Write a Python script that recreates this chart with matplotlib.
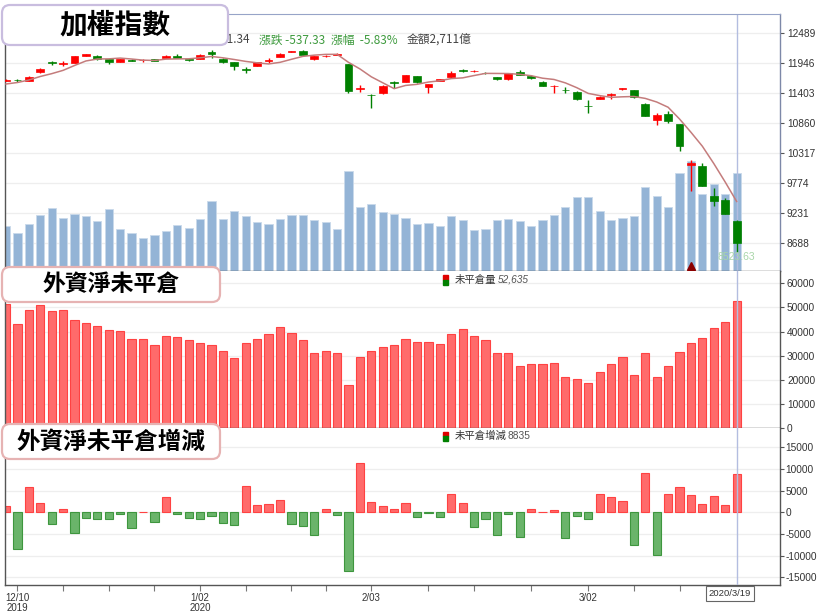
import numpy as np
import matplotlib
matplotlib.use('Agg')
import matplotlib.pyplot as plt
from matplotlib.patches import FancyBboxPatch

plt.rcParams['font.family'] = ['Noto Sans CJK TC', 'DejaVu Sans']

# ---------------- data ----------------
dates = ['12/09', '12/10', '12/11', '12/12', '12/13', '12/16', '12/17', '12/18', '12/19', '12/20',
         '12/23', '12/24', '12/25', '12/26', '12/27', '12/30', '12/31',
         '1/02', '1/03', '1/06', '1/07', '1/08', '1/09', '1/10', '1/13', '1/14', '1/15',
         '1/16', '1/17', '1/20', '1/30', '1/31',
         '2/03', '2/04', '2/05', '2/06', '2/07', '2/10', '2/11', '2/12', '2/13', '2/14',
         '2/17', '2/18', '2/19', '2/20', '2/21', '2/24', '2/25', '2/26', '2/27',
         '3/02', '3/03', '3/04', '3/05', '3/06', '3/09', '3/10', '3/11', '3/12', '3/13',
         '3/16', '3/17', '3/18', '3/19']

opens = [11629, 11644, 11626, 11778, 11955, 11933, 11941, 12073, 12073, 12013,
         11970, 12009, 11995, 12013, 12037, 12078, 12018, 12024, 12151, 12024,
         11959, 11837, 11892, 11991, 12060, 12151, 12169, 12013, 12067, 12096,
         11928, 11481, 11367, 11398, 11597, 11608, 11705, 11506, 11626, 11687,
         11819, 11796, 11770, 11693, 11662, 11789, 11705, 11608, 11524, 11463,
         11427, 11173, 11294, 11367, 11470, 11457, 11209, 10920, 11017, 10842,
         10105, 10073, 9539, 9461, 9095]
highs = [11656, 11656, 11705, 11856, 11982, 11982, 12078, 12118, 12091, 12018,
         12027, 12018, 12027, 12018, 12085, 12109, 12027, 12103, 12181, 12031,
         11964, 11879, 11970, 12037, 12127, 12172, 12176, 12078, 12091, 12127,
         11933, 11548, 11376, 11542, 11620, 11734, 11711, 11571, 11662, 11801,
         11843, 11825, 11778, 11698, 11765, 11819, 11720, 11615, 11542, 11506,
         11434, 11276, 11349, 11398, 11499, 11463, 11217, 11046, 11077, 10847,
         10185, 10131, 9678, 9511, 9101]
lows = [11620, 11611, 11620, 11770, 11910, 11897, 11937, 12067, 12000, 11933,
        11964, 11977, 11973, 11977, 12031, 12036, 11988, 12018, 12031, 11951,
        11819, 11770, 11886, 11946, 12055, 12145, 12085, 12006, 12055, 12091,
        11403, 11427, 11126, 11390, 11494, 11602, 11589, 11408, 11620, 11680,
        11789, 11783, 11752, 11638, 11638, 11723, 11665, 11524, 11408, 11408,
        11276, 11046, 11289, 11294, 11463, 11318, 10981, 10824, 10865, 10353,
        9638, 9714, 9357, 9210, 8523.63]
closes = [11647, 11633, 11698, 11843, 11946, 11946, 12073, 12109, 12018, 11959,
          12018, 11988, 12006, 11988, 12078, 12042, 11995, 12096, 12109, 11959,
          11886, 11827, 11964, 12009, 12103, 12163, 12091, 12073, 12078, 12109,
          11439, 11494, 11361, 11535, 11579, 11729, 11597, 11566, 11656, 11770,
          11796, 11807, 11760, 11651, 11760, 11729, 11680, 11535, 11535, 11452,
          11294, 11162, 11336, 11380, 11499, 11325, 10987, 11010, 10902, 10435,
          10127, 9720, 9448, 9218.67, 8681.34]
ma5 = [11566, 11593, 11638, 11702, 11753, 11813, 11901, 11983, 12018, 12021,
       12035, 12018, 11998, 11992, 12016, 12020, 12022, 12040, 12064, 12040,
       12009, 11975, 11949, 11929, 11958, 12013, 12066, 12088, 12102, 12103,
       11958, 11839, 11696, 11588, 11482, 11540, 11560, 11601, 11625, 11664,
       11677, 11719, 11758, 11757, 11755, 11741, 11716, 11671, 11648, 11586,
       11499, 11396, 11356, 11325, 11334, 11340, 11305, 11240, 11145, 10932,
       10692, 10439, 10126, 9791, 9440]
# turnover (億)
amount = [1245, 1051, 1300, 1557, 1751, 1457, 1577, 1521, 1392, 1706,
          1153, 1051, 922, 1005, 1097, 1263, 1180, 1429, 1936, 1447,
          1668, 1521, 1355, 1291, 1429, 1557, 1540, 1411, 1347, 1153,
          2774, 1762, 1853, 1632, 1577, 1457, 1300, 1319, 1236, 1513,
          1411, 1134, 1153, 1411, 1429, 1375, 1253, 1411, 1549, 1762,
          2039, 2039, 1668, 1411, 1466, 1513, 2332, 2083, 1779, 2719,
          3051, 2130, 2406, 2130, 2711]
# foreign net open interest
oi = [51300, 43000, 48900, 51000, 48400, 49100, 44600, 43400, 42100, 40600,
      40300, 36700, 36700, 34550, 38050, 37750, 36500, 35100, 34300, 31900,
      28850, 35100, 37000, 39000, 42000, 39500, 36400, 31200, 32000, 31300,
      18000, 29400, 31900, 33500, 34300, 36700, 35800, 35650, 34650, 38850,
      41150, 37950, 36450, 31300, 31000, 25600, 26350, 26450, 27150, 21200,
      20300, 18750, 23050, 26550, 29300, 22000, 31000, 21200, 25550, 31500,
      35450, 37500, 41400, 43800, 52635]
oi_chg = [1500, -8500, 5900, 2070, -2600, 700, -4700, -1250, -1450, -1550,
          -300, -3700, 0, -2250, 3450, -300, -1250, -1550, -850, -2450,
          -3000, 6100, 1700, 1850, 2900, -2600, -3150, -5200, 750, -700,
          -13500, 11300, 2450, 1450, 700, 2250, -1000, -150, -1000, 4200,
          2250, -3300, -1550, -5200, -300, -5600, 750, 0, 600, -6000,
          -850, -1550, 4200, 3450, 2600, -7500, 9000, -9800, 4200, 5900,
          3900, 1850, 3750, 1700, 8835]

price_ticks = [8688, 9231, 9774, 10317, 10860, 11403, 11946, 12489]
oi_ticks = [0, 10000, 20000, 30000, 40000, 50000, 60000]
chg_ticks = [-15000, -10000, -5000, 0, 5000, 10000, 15000]
major_idx = [1, 17, 32, 51]
major_lbl = ['12/10\n2019', '1/02\n2020', '2/03', '3/02']
minor_idx = [5, 9, 13, 21, 25, 28, 37, 41, 46, 55, 59]
last_date = '2020/3/19'

NUM_FONT = 'Liberation Sans'

# ---------------- figure ----------------
W, H = 820, 612
fig = plt.figure(figsize=(W / 100, H / 100), dpi=100)


def rect(x0, y0, x1, y1):
    return [x0 / W, 1 - y1 / H, (x1 - x0) / W, (y1 - y0) / H]


ax_vol = fig.add_axes(rect(5, 14, 780, 271))
ax_px = fig.add_axes(rect(5, 14, 780, 271), sharex=ax_vol)
ax_oi = fig.add_axes(rect(5, 271, 780, 428), sharex=ax_vol)
ax_chg = fig.add_axes(rect(5, 428, 780, 585), sharex=ax_vol)

x = np.arange(len(closes))
o, h, l, c = map(np.array, (opens, highs, lows, closes))
last = len(x) - 1

# volume behind the candles
ax_vol.bar(x, amount, width=0.72, color='#94b4d6', edgecolor='#c9d9ea', lw=0.6, zorder=2)
ax_vol.set_ylim(0, 7110)
ax_vol.axis('off')

ax_px.patch.set_visible(False)
ax_px.set_ylim(8181, 12833)
for p in price_ticks:
    f = (p - 8181) / (12833 - 8181)
    ax_vol.plot([0, 1], [f * 7110] * 2, transform=ax_vol.get_yaxis_transform(),
                color='#eeeeee', lw=0.9, zorder=1)

up = c >= o
cols = np.where(up, '#ff0000', '#008000')
ax_px.axvline(last, color='#b3bde0', lw=1, zorder=1)
ax_px.vlines(x, l, h, colors=cols, lw=1, zorder=3)
ax_px.bar(x, np.maximum(np.abs(c - o), 14), bottom=np.minimum(o, c), width=0.68,
          color=cols, edgecolor=cols, lw=0.5, zorder=4)
ax_px.plot(x, ma5, color='#c47c7c', lw=1.1, zorder=5)
ax_px.plot([60], [0.018], marker='^', color='#8b0000', ms=6,
           transform=ax_px.get_xaxis_transform(), zorder=6)
ax_px.annotate(f'{lows[-1]:.2f}', (last, lows[-1]), xytext=(0, -3.5), textcoords='offset points',
               ha='center', va='center', fontsize=7.5, color='#a9d6a9', family=NUM_FONT)

# open interest
ax_oi.bar(x, oi, width=0.72, color='#ff6b6b', edgecolor='#ff4242', lw=0.8, zorder=2)
ax_oi.set_ylim(0, 65100)
ax_oi.axvline(last, color='#b3bde0', lw=1, zorder=3)

# open interest change
chg = np.array(oi_chg)
ax_chg.bar(x, chg, width=0.72, color=np.where(chg >= 0, '#ff6b6b', '#6ab46a'),
           edgecolor=np.where(chg >= 0, '#ff4242', '#3e963e'), lw=0.8, zorder=2)
ax_chg.set_ylim(-16750, 19420)
ax_chg.axvline(last, color='#b3bde0', lw=1, zorder=3)

for ax, ticks in ((ax_px, price_ticks), (ax_oi, oi_ticks), (ax_chg, chg_ticks)):
    ax.set_xlim(-0.09, 67.8)
    ax.yaxis.tick_right()
    ax.set_yticks(ticks)
    ax.set_yticklabels([str(t) for t in ticks], family=NUM_FONT)
    ax.tick_params(axis='y', length=3, width=0.8, color='#555', labelsize=7.3,
                   labelcolor='#333', pad=2)
    if ax is not ax_px:
        ax.yaxis.grid(True, color='#eeeeee', lw=0.9, zorder=0)
        ax.spines['top'].set_visible(False)
    ax.set_axisbelow(True)
    for s in ('left', 'right', 'bottom'):
        ax.spines[s].set_color('#555')
        ax.spines[s].set_linewidth(1)
    ax.tick_params(axis='x', bottom=False, labelbottom=False)

# negative labels hang a little to the left, as in the source chart
for t in ax_chg.get_yticklabels():
    if t.get_text().startswith('-'):
        t.set_x(t.get_position()[0])
ax_chg.tick_params(axis='y', pad=1)

ax_px.spines['top'].set_color('#97a4c8')
ax_px.spines['right'].set_color('#7d88a8')

ax_chg.set_xticks(major_idx)
ax_chg.set_xticklabels(major_lbl, family=NUM_FONT, linespacing=1.0)
ax_chg.set_xticks(minor_idx, minor=True)
ax_chg.tick_params(axis='x', which='both', bottom=True, labelbottom=True, length=4,
                   width=0.8, color='#777', labelsize=7, labelcolor='#333', pad=1.5)

ax_chg.annotate(last_date, xy=(last, 0), xycoords=('data', 'axes fraction'),
                xytext=(-5, -3), textcoords='offset points', ha='center', va='top',
                fontsize=6.8, color='#333', family=NUM_FONT,
                bbox=dict(boxstyle='square,pad=0.3', fc='white', ec='#666', lw=0.8))

# header quote line (partly hidden by the title box)
diff = closes[-1] - closes[-2]
pct = diff / closes[-2] * 100
fig.text(250 / W, 1 - 40 / H, f'收盤 {closes[-1]:.2f}', ha='right', va='center',
         fontsize=8.5, color='#444', zorder=5)
fig.text(259 / W, 1 - 40 / H, f'漲跌 {diff:.2f}', ha='left', va='center',
         fontsize=8.5, color='#3d9a3d', zorder=5)
fig.text(331 / W, 1 - 40 / H, f'漲幅  {pct:.2f}%', ha='left', va='center',
         fontsize=8.5, color='#3d9a3d', zorder=5)
fig.text(407 / W, 1 - 40 / H, f'金額{amount[-1]:,}億', ha='left', va='center',
         fontsize=8.5, color='#444', zorder=5)

# legends
for ypx, name, val, style in ((280, '未平倉量', f'{oi[-1]:,}', 'italic'),
                              (436, '未平倉增減', f'{oi_chg[-1]}', 'normal')):
    fig.patches.append(plt.Rectangle((443 / W, 1 - ypx / H), 5 / W, 4.5 / H,
                                     color='#e00000', transform=fig.transFigure, zorder=6))
    fig.patches.append(plt.Rectangle((443 / W, 1 - (ypx + 4.5) / H), 5 / W, 4.5 / H,
                                     color='#008000', transform=fig.transFigure, zorder=6))
    fig.text(455 / W, 1 - ypx / H, name, ha='left', va='center', fontsize=7.5,
             color='#333', zorder=6)
    fig.text(455 / W + (len(name) * 10 + 3) / W, 1 - ypx / H, val, ha='left', va='center',
             fontsize=7.3, color='#555', style=style, family=NUM_FONT, zorder=6)

# title boxes
for (x0, y0, x1, y1), title, ec, fs in (((2, 5, 228, 45), '加權指數', '#c9bddf', 20),
                                       ((2, 267, 220, 302), '外資淨未平倉', '#e6b3b3', 16.5),
                                       ((2, 424, 220, 459), '外資淨未平倉增減', '#e6b3b3', 17)):
    box = FancyBboxPatch((x0 / 100, (H - y1) / 100), (x1 - x0) / 100, (y1 - y0) / 100,
                         boxstyle='round,pad=0,rounding_size=0.08',
                         transform=fig.dpi_scale_trans, fc='white', ec=ec, lw=1.6, zorder=10)
    fig.patches.append(box)
    fig.text((x0 + x1) / 2 / W, 1 - (y0 + y1) / 2 / H, title, ha='center', va='center',
             fontsize=fs, fontweight='bold', color='black', zorder=11)

fig.savefig('out.png', dpi=100)
